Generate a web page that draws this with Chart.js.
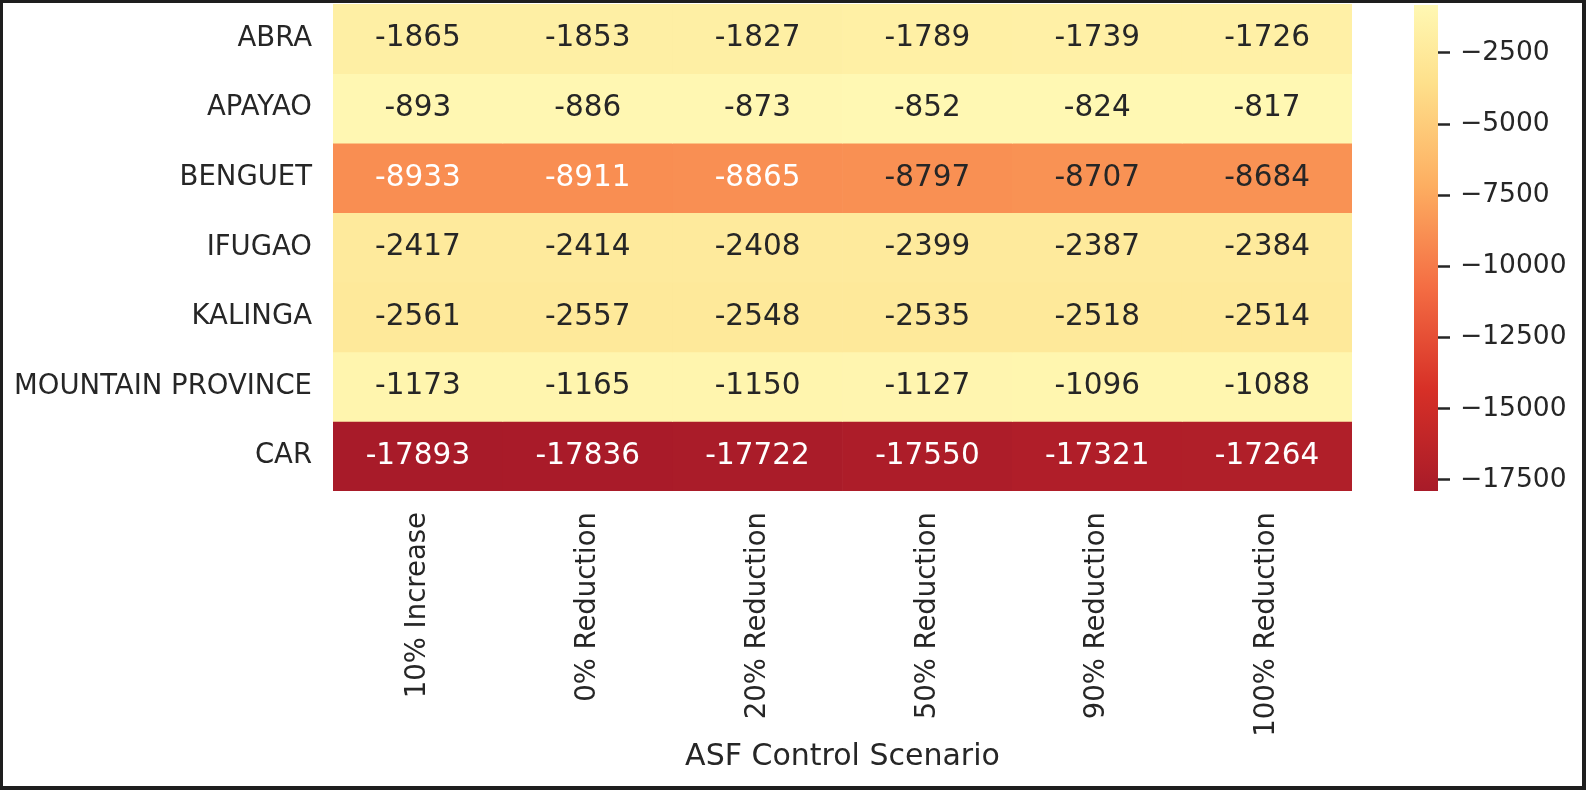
<!DOCTYPE html>
<html>
<head>
<meta charset="utf-8">
<script src="https://cdn.jsdelivr.net/npm/chart.js@4"></script>
<style>
  body { margin: 0; background: #1e1e1e; width: 1586px; height: 790px; overflow: hidden; position: relative; }
  #paper { position: absolute; left: 3px; top: 3px; width: 1579px; height: 783px; background: #fff; }
  #mainBox { position: absolute; left: 0; top: 0; width: 1390px; height: 790px; }
  #barBox { position: absolute; left: 1390px; top: 0; width: 190px; height: 790px; }
</style>
</head>
<body>
<div id="paper"></div>
<div id="mainBox"><canvas id="heat"></canvas></div>
<div id="barBox"><canvas id="cbar"></canvas></div>
<script>
// scenario columns and province rows
const scenarios = ["10% Increase", "0% Reduction", "20% Reduction", "50% Reduction", "90% Reduction", "100% Reduction"];
const provinces = ["ABRA", "APAYAO", "BENGUET", "IFUGAO", "KALINGA", "MOUNTAIN PROVINCE", "CAR"];

// one array per province, same order as scenarios
const abra     = [-1865, -1853, -1827, -1789, -1739, -1726];
const apayao   = [-893, -886, -873, -852, -824, -817];
const benguet  = [-8933, -8911, -8865, -8797, -8707, -8684];
const ifugao   = [-2417, -2414, -2408, -2399, -2387, -2384];
const kalinga  = [-2561, -2557, -2548, -2535, -2518, -2514];
const mtProv   = [-1173, -1165, -1150, -1127, -1096, -1088];
const car      = [-17893, -17836, -17722, -17550, -17321, -17264];
const rows = [abra, apayao, benguet, ifugao, kalinga, mtProv, car];

// colorbar tick values
const barTicks = [-2500, -5000, -7500, -10000, -12500, -15000, -17500];

const TEXT = "#262626";
const FONT = "'DejaVu Sans', sans-serif";

// lower half of a red-yellow diverging map, centred on zero
const stops = [
  [0.0, [168, 27, 41]],
  [0.1, [215, 48, 39]],
  [0.2, [244, 109, 67]],
  [0.3, [253, 174, 97]],
  [0.4, [254, 224, 139]],
  [0.5, [255, 255, 191]]
];
const allVals = rows.flat();
const vmin = Math.min(...allVals);
const vmax = Math.max(...allVals);
const vrange = Math.max(vmax, -vmin);

function cmapPos(v) {
  return (v + vrange) / (2 * vrange);
}
function rgbAt(p) {
  if (p <= stops[0][0]) return stops[0][1];
  for (let i = 1; i < stops.length; i++) {
    if (p <= stops[i][0]) {
      const t = (p - stops[i - 1][0]) / (stops[i][0] - stops[i - 1][0]);
      const a = stops[i - 1][1], b = stops[i][1];
      return a.map((c, k) => c + (b[k] - c) * t);
    }
  }
  return stops[stops.length - 1][1];
}
function cssColor(rgb) {
  return "rgb(" + rgb.map(Math.round).join(",") + ")";
}
function luminance(rgb) {
  const lin = rgb.map(c => {
    c = c / 255;
    return c <= 0.03928 ? c / 12.92 : Math.pow((c + 0.055) / 1.055, 2.4);
  });
  return 0.2126 * lin[0] + 0.7152 * lin[1] + 0.0722 * lin[2];
}

// stacked bars: each province is one band of height 1
const datasets = rows.map((vals, i) => ({
  label: provinces[i],
  data: vals.map(() => 1),
  backgroundColor: vals.map(v => cssColor(rgbAt(cmapPos(v)))),
  borderWidth: 0,
  barPercentage: 1,
  categoryPercentage: 1
}));

// write the value in each cell
const cellText = {
  id: "cellText",
  afterDatasetsDraw(chart) {
    const ctx = chart.ctx;
    ctx.save();
    ctx.font = "29.5px " + FONT;
    ctx.textAlign = "center";
    ctx.textBaseline = "middle";
    rows.forEach((vals, i) => {
      chart.getDatasetMeta(i).data.forEach((bar, j) => {
        const p = bar.getProps(["x", "y", "base"], true);
        const lum = luminance(rgbAt(cmapPos(vals[j])));
        ctx.fillStyle = lum > 0.406 ? TEXT : "#ffffff";
        ctx.fillText(String(vals[j]), p.x, (p.y + p.base) / 2);
      });
    });
    ctx.restore();
  }
};

new Chart(document.getElementById("heat"), {
  type: "bar",
  data: { labels: scenarios, datasets: datasets },
  options: {
    responsive: true,
    maintainAspectRatio: false,
    animation: false,
    layout: { padding: { left: 0, right: 38, top: 4, bottom: 0 } },
    plugins: { legend: { display: false }, tooltip: { enabled: false } },
    scales: {
      x: {
        stacked: true,
        grid: { display: false, drawTicks: false },
        border: { display: false },
        ticks: {
          color: TEXT, font: { family: FONT, size: 27.5 },
          minRotation: 90, maxRotation: 90, autoSkip: false, padding: 21
        },
        title: {
          display: true, text: "ASF Control Scenario", color: TEXT,
          font: { family: FONT, size: 30 }, padding: { top: 0, bottom: 15 }
        },
        afterFit(scale) {
          scale.height = 299;
          scale.paddingLeft = 0;
          scale.paddingRight = 0;
        }
      },
      y: {
        stacked: true,
        min: 0, max: provinces.length, reverse: true,
        grid: { display: false, drawTicks: false },
        border: { display: false },
        ticks: {
          color: TEXT, font: { family: FONT, size: 27.5 }, padding: 21, autoSkip: false,
          callback: (v, i) => provinces[i]
        },
        afterBuildTicks(scale) {
          scale.ticks = provinces.map((p, i) => ({ value: i + 0.5 }));
        },
        afterFit(scale) {
          scale.width = 333;
          scale.paddingTop = 0;
          scale.paddingBottom = 0;
        }
      }
    }
  },
  plugins: [cellText]
});

// colorbar as a single floating bar with a gradient fill
function barGradient(context) {
  const chart = context.chart;
  const area = chart.chartArea;
  if (!area) return null;
  const y = chart.scales.y;
  const pLo = cmapPos(vmin), pHi = cmapPos(vmax);
  const g = chart.ctx.createLinearGradient(0, y.getPixelForValue(vmin), 0, y.getPixelForValue(vmax));
  g.addColorStop(0, cssColor(rgbAt(pLo)));
  stops.forEach(s => {
    if (s[0] > pLo && s[0] < pHi) g.addColorStop((s[0] - pLo) / (pHi - pLo), cssColor(s[1]));
  });
  g.addColorStop(1, cssColor(rgbAt(pHi)));
  return g;
}

new Chart(document.getElementById("cbar"), {
  type: "bar",
  data: {
    labels: [""],
    datasets: [{
      data: [[vmin, vmax]],
      backgroundColor: barGradient,
      borderWidth: 0,
      barPercentage: 1,
      categoryPercentage: 1
    }]
  },
  options: {
    responsive: true,
    maintainAspectRatio: false,
    animation: false,
    layout: { padding: { left: 24, right: 0, top: 5, bottom: 299 } },
    plugins: { legend: { display: false }, tooltip: { enabled: false } },
    scales: {
      x: { display: false },
      y: {
        position: "right",
        min: vmin, max: vmax,
        grid: { drawOnChartArea: false, drawTicks: true, tickLength: 12, tickColor: TEXT, tickWidth: 2.5 },
        border: { display: false },
        ticks: {
          color: TEXT, font: { family: FONT, size: 26.5 }, padding: 10,
          callback: v => (v < 0 ? "\u2212" : "") + Math.abs(v)
        },
        afterBuildTicks(scale) {
          scale.ticks = barTicks.map(v => ({ value: v }));
        },
        afterFit(scale) {
          scale.width = 142;
          scale.paddingTop = 0;
          scale.paddingBottom = 0;
        }
      }
    }
  }
});
</script>
</body>
</html>
